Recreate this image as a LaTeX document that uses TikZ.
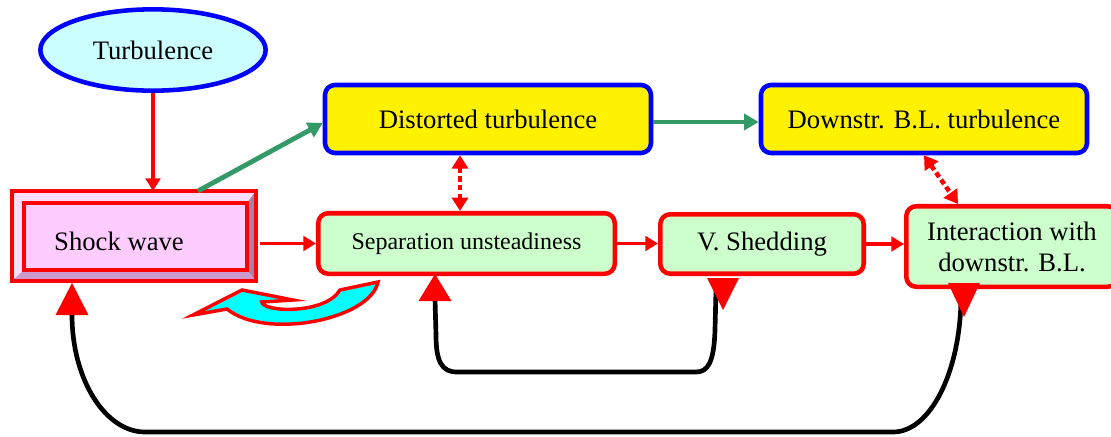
\documentclass[tikz,border=0pt]{standalone}
\usepackage{fontspec}
\setmainfont{Liberation Serif}
\usetikzlibrary{arrows.meta,calc,shapes.geometric}
\definecolor{cyanfill}{HTML}{CCFFFF}
\definecolor{boxgreen}{HTML}{CCFFCC}
\definecolor{arrgreen}{HTML}{339966}
\definecolor{shockfill}{HTML}{FFCCFF}
\definecolor{bevlight}{HTML}{FFDDFF}
\definecolor{bevright}{HTML}{A682A8}
\definecolor{bevbottom}{HTML}{CC99CC}
\definecolor{bluebord}{HTML}{0000FF}
\definecolor{redbord}{HTML}{FF0000}
\definecolor{cyanarrow}{HTML}{00FFFF}
\begin{document}
\begin{tikzpicture}[x=0.75pt,y=-0.75pt,
 lbl/.style={font=\fontsize{20}{23.25}\selectfont},
 yellowbox/.style={draw=bluebord, fill=yellow, line width=3.4pt, rounded corners=7.5pt, minimum width=244.5pt, minimum height=51pt, inner sep=0pt, lbl},
 greenbox/.style={draw=redbord, fill=boxgreen, line width=3.4pt, rounded corners=7.5pt, inner sep=0pt, lbl},
 redarrow/.style={draw=redbord, line width=2.5pt, -{Triangle[length=9.5pt,width=11pt]}},
 greenarrow/.style={draw=arrgreen, line width=3.6pt, -{Triangle[length=11pt,width=12pt]}},
 dotarrow/.style={draw=redbord, line width=3.4pt, dash pattern=on 4pt off 2.5pt, {Triangle[length=10pt,width=12pt]}-{Triangle[length=10pt,width=12pt]}},
 loopline/.style={draw=black, line width=3.5pt},
 bigtip/.style={fill=redbord},
 shockouter/.style={draw=redbord, fill=bevlight, line width=3.3pt, minimum width=183pt, minimum height=67.5pt, inner sep=0pt, outer sep=0pt},
 shockinner/.style={draw=redbord, fill=shockfill, line width=3.3pt, minimum width=167.25pt, minimum height=50.25pt, inner sep=0pt, outer sep=0pt},
]
\clip (0,0) rectangle (1111,436);

% nodes
\node[ellipse, draw=bluebord, fill=cyanfill, line width=3.4pt, minimum width=169pt, minimum height=61pt, inner sep=0pt, lbl] (turb) at (153,50) {Turbulence};

\node[shockouter] (shock) at (134,236) {};
\fill[bevright] (shock.north east) -- (shock.south east) -- (247,270) -- (247,203) -- cycle;
\fill[bevbottom] (shock.south west) -- (shock.south east) -- (247,270) -- (24,270) -- cycle;
\draw[redbord, line width=3.3pt] (shock.north west) rectangle (shock.south east);
\node[shockinner] (shockin) at (135.5,236.5) {};
\node[lbl, inner sep=0pt] (shocklabel) at (119,241) {Shock wave};

\node[yellowbox] (dist) at (488,119) {Distorted turbulence};
\node[yellowbox] (down) at (924,119) {Downstr. B.L. turbulence};

\node[greenbox, minimum width=222.4pt, minimum height=45.4pt, font=\fontsize{18}{21}\selectfont] (sep) at (466.5,243.5) {Separation unsteadiness};
\node[greenbox, minimum width=152.6pt, minimum height=44.6pt] (vsh) at (762,244) {V. Shedding};
\node[greenbox, minimum width=158.6pt, minimum height=60.4pt, align=center] (int) at (1012,246.5) {Interaction with\\downstr. B.L.};

% connectors
\draw[redarrow] (turb.south) -- (turb.south |- shock.north);
\draw[greenarrow] ($(shock.north)+(64,0)$) -- ($(dist.west)+(0,4)$);
\draw[greenarrow] ($(dist.east)+(0,3)$) -- ($(down.west)+(0,3)$);
\draw[redarrow] ($(shock.east |- sep.west)+(4,0)$) -- (sep.west);
\draw[redarrow] (sep.east) -- (vsh.west |- sep.east);
\draw[redarrow] (vsh.east) -- (int.west |- vsh.east);

\coordinate (d1) at ($(dist.south)+(-28,0)$);
\draw[dotarrow] (d1) -- (d1 |- sep.north);
\draw[dotarrow] (down.south) -- ($(int.north)+(-54,0)$);

% feedback loops
\coordinate (sepTip) at ($(sep.south)+(-31.5,-2)$);
\coordinate (shockTip) at ($(shock.south)+(-62,2)$);
\coordinate (vshOut) at ($(vsh.south)+(-46,14)$);
\coordinate (intOut) at ($(int.south)+(-51,10)$);

\draw[loopline] (vshOut) -- (715,330) .. controls (714,362) and (708,372) .. (696,372)
  -- (457,372) .. controls (442,372) and (436,362) .. (436,335) -- ($(sepTip)+(0,25)$);
\draw[loopline] (intOut) .. controls (960,373) and (930,432) .. (893,432)
  -- (145,432) .. controls (105,432) and (72,379) .. ($(shockTip)+(0,32)$);

\fill[bigtip] (sepTip) -- ++(-16.5,27) -- ++(33,0) -- cycle;
\fill[bigtip] (shockTip) -- ++(-16.5,32) -- ++(33,0) -- cycle;
\fill[bigtip] ($(vsh.south)+(-55,2)$) -- ++(32,0) -- ++(-16,32) -- cycle;
\fill[bigtip] ($(int.south)+(-64,-6)$) -- ++(32,0) -- ++(-16,34) -- cycle;

% curved block arrow
\draw[draw=redbord, fill=cyanarrow, line width=2.6pt, line join=miter]
  (193,315) -- (242,290) -- (293,300) -- (262,302)
  .. controls (262,312) and (325,315) .. (340,290) -- (378,282)
  .. controls (370,320) and (265,340) .. (227,309) -- cycle;
\end{tikzpicture}
\end{document}
